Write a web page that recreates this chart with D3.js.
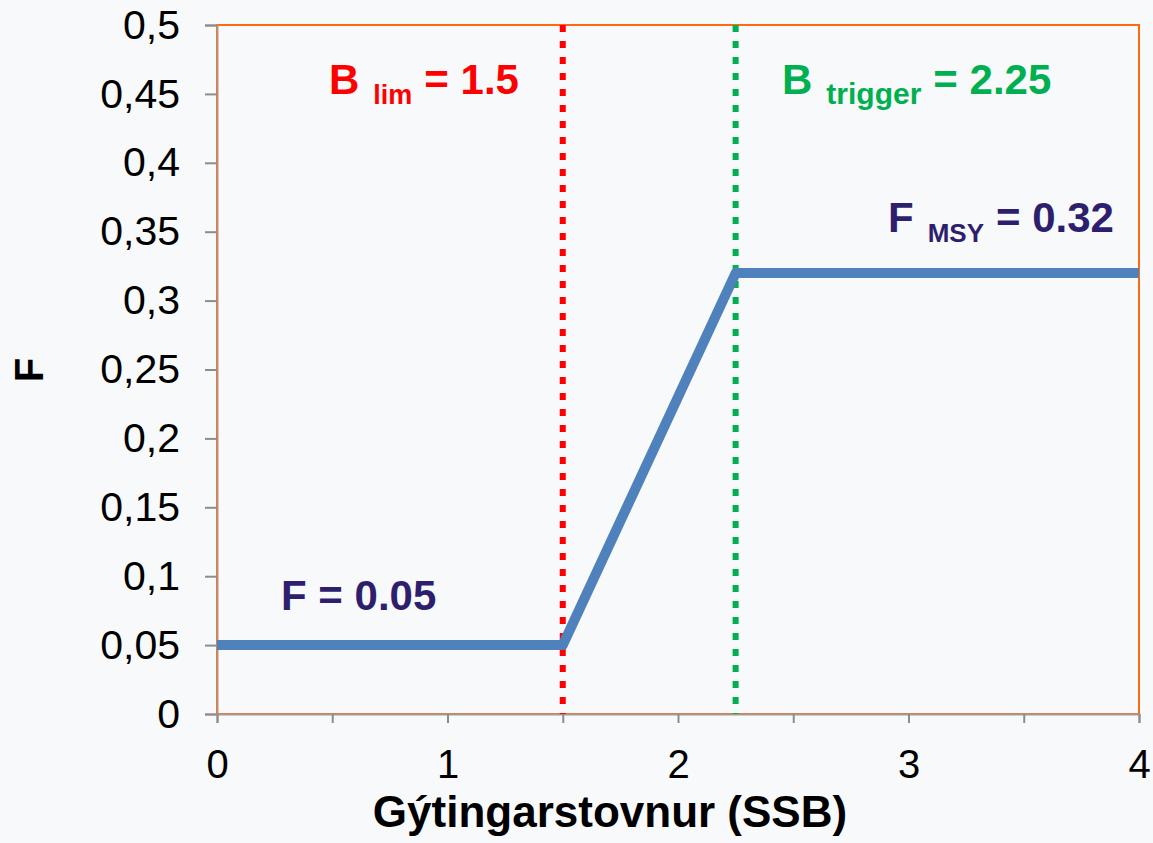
<!DOCTYPE html>
<html><head><meta charset="utf-8">
<script src="https://cdn.jsdelivr.net/npm/d3@7"></script>
<style>
html,body{margin:0;padding:0;background:#f8f9fb;}
svg{display:block;font-family:"Liberation Sans",Arial,sans-serif;}
</style></head>
<body><svg id="c" width="1153" height="843"></svg>
<script>
const ssb = [0, 1.5, 2.25, 4];
const fValues = [0.05, 0.05, 0.32, 0.32];
const xTicks = [0, 0.5, 1, 1.5, 2, 2.5, 3, 3.5, 4];
const xLabels = [0, 1, 2, 3, 4];
const yTicks = [0, 0.05, 0.1, 0.15, 0.2, 0.25, 0.3, 0.35, 0.4, 0.45, 0.5];
const refLines = [{v: 1.5, color: "#ff0000"}, {v: 2.25, color: "#00b050"}];

const svg = d3.select("#c");
const x = d3.scaleLinear().domain([0, 4]).range([217, 1139]);
const y = d3.scaleLinear().domain([0, 0.5]).range([714, 25]);
const fmt = v => String(+v.toFixed(2)).replace(".", ",");
const FF = "Liberation Sans, Arial, sans-serif";

// plot border
svg.append("rect").attr("x", x(0)).attr("y", y(0.5)).attr("width", x(4) - x(0)).attr("height", y(0) - y(0.5))
  .attr("fill", "none").attr("stroke", "#ff6a10").attr("stroke-width", 2);

// y axis
const ya = svg.append("g").attr("transform", `translate(${x(0)},0)`)
  .call(d3.axisLeft(y).tickValues(yTicks).tickSize(12).tickPadding(25).tickFormat(fmt));
ya.attr("font-size", null).attr("font-family", null);
ya.select(".domain").attr("stroke", "#b9917a").attr("stroke-width", 2);
ya.selectAll(".tick line").attr("stroke", "#8c8c8c").attr("stroke-width", 2);
ya.selectAll(".tick text").attr("font-size", 41).attr("fill", "#000").attr("font-family", FF);

// x axis
const xa = svg.append("g").attr("transform", `translate(0,${y(0)})`)
  .call(d3.axisBottom(x).tickValues(xTicks).tickSize(9).tickPadding(27)
    .tickFormat(d => xLabels.includes(d) ? String(d) : ""));
xa.attr("font-size", null).attr("font-family", null);
xa.select(".domain").attr("stroke", "#a9998f").attr("stroke-width", 2);
xa.selectAll(".tick line").attr("stroke", "#8c8c8c").attr("stroke-width", 2);
xa.selectAll(".tick text").attr("font-size", 40).attr("fill", "#000").attr("font-family", FF);

// reference lines
refLines.forEach(r => {
  svg.append("line").attr("x1", x(r.v)).attr("x2", x(r.v)).attr("y1", y(0.5)).attr("y2", y(0))
    .attr("stroke", r.color).attr("stroke-width", 6).attr("stroke-dasharray", "7,9");
});

// HCR line
const pts = ssb.map((s, i) => [s, fValues[i]]);
svg.append("path").datum(pts)
  .attr("d", d3.line().x(d => x(d[0])).y(d => y(d[1])))
  .attr("fill", "none").attr("stroke", "#4f81bd").attr("stroke-width", 10).attr("stroke-linejoin", "round");

// annotations
function label(xp, yp, color, main, sub, subSize, rest) {
  const t = svg.append("text").attr("x", xp).attr("y", yp).attr("fill", color)
    .attr("font-weight", "bold").attr("font-size", 42).attr("font-family", FF);
  t.append("tspan").text(main);
  if (sub) {
    t.append("tspan").attr("font-size", subSize).attr("dx", 14).attr("dy", 10).text(sub);
    t.append("tspan").attr("dx", 12).attr("dy", -10).text(rest);
  } else {
    t.append("tspan").text(" " + rest);
  }
}
label(329, 94, "#ff0000", "B", "lim", 27, "= 1.5");
label(782, 94, "#00b050", "B", "trigger", 30, "= 2.25");
label(888, 232, "#2e1f6e", "F", "MSY", 26, "= 0.32");
label(281, 610, "#2e1f6e", "F", null, 0, "= 0.05");

// axis titles
svg.append("text").attr("x", 610).attr("y", 827).attr("text-anchor", "middle").attr("font-family", FF)
  .attr("font-weight", "bold").attr("font-size", 44).text("Gýtingarstovnur (SSB)");
svg.append("text").attr("transform", "translate(43,370) rotate(-90)").attr("text-anchor", "middle").attr("font-family", FF)
  .attr("font-weight", "bold").attr("font-size", 40).text("F");
</script></body></html>
